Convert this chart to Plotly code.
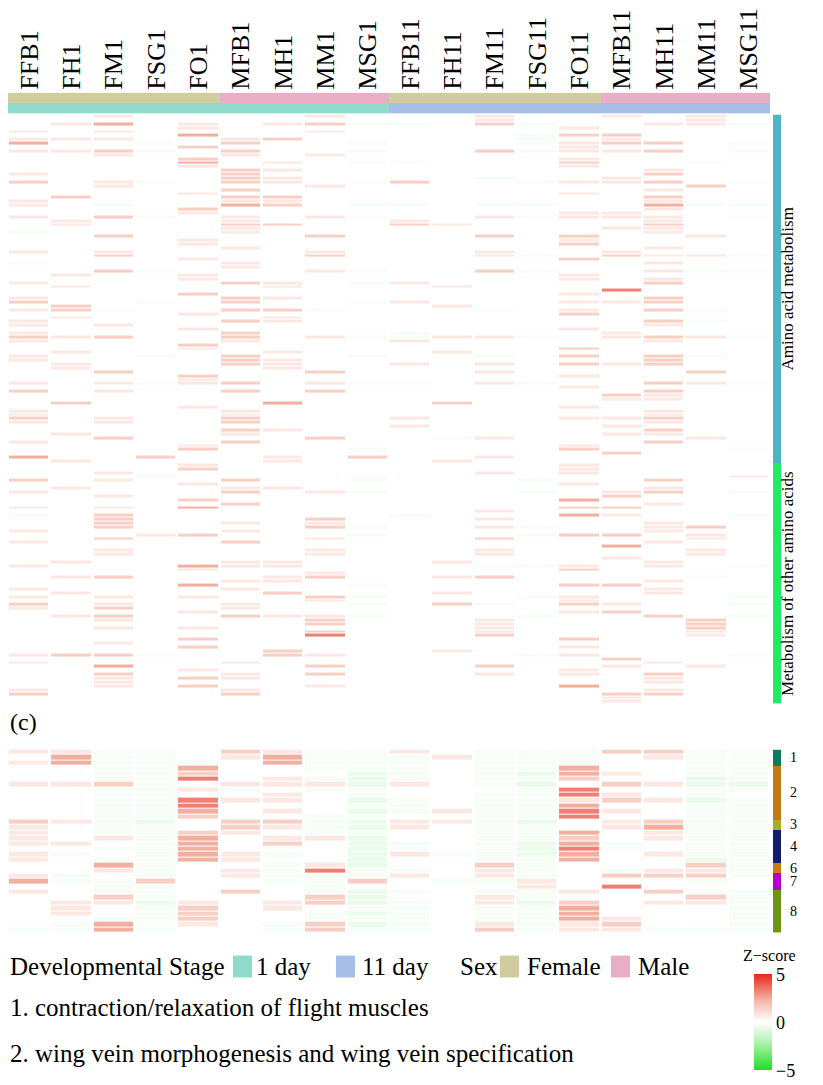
import plotly.graph_objects as go

SAMPLES = ["FFB1","FH1","FM1","FSG1","FO1","MFB1","MH1","MM1","MSG1",
           "FFB11","FH11","FM11","FSG11","FO11","MFB11","MH11","MM11","MSG11"]
SEX = ["Female"]*5 + ["Male"]*4 + ["Female"]*5 + ["Male"]*4
STAGE = ["1 day"]*9 + ["11 day"]*9

# level codes -> z-score
LEVELS = {"0": 0.0, "1": 0.7, "2": 1.5, "3": 2.4, "4": 3.3, "a": -0.25, "b": -0.6}

AMINO_ROWS = [
"001000010001001010","000000000001000010","01301012aa02a0011a","000010000000010000",
"101000010000000000","000030000000a22000","111001200000a01000","300a0200a000a1220a",
"000020000000010000","112a0200a002a1120a","001001010000000000","000020000000010000",
"00003010aa000200a0","000010000000010000","000002100000000100","100002000000000200",
"00000210000a001000","201a0210a200a1120a","001000010000000020","000002000000000100",
"000010000000010000","020002200000000200","100001100000000100","10a00320aa0aa003aa",
"000020000000000100","000010000000011000","102a0101a001a1110a","010001000100000100",
"010002200210000200","000001000000001100","a00001000000000100","002000020002020010",
"000010000000010000","000010000000020000","000001000000000100","101000010001001000",
"002000020001a0211a","000010000000020000","a00001000000000100",
"000001000000000000","002a0001a002a001aa","010010000000010000","000010000000010100",
"10000210a100000200","010000100010000000","000000000000004000","000020000000010000",
"100002100000000200","200a0200a100011200","020000000010000000","12a0022a000a0102a0",
"000010000000020000","010000100000000000","1000021000000002a0","101000000000000100",
"000010000000010000","100002000a00001000","21200201aa11a0121a","100001000100000100",
"000020000000000000","000010000000020000","010000100010000000","100a0200a00a0202a0",
"100002100000000200","010002100101021200","010000100000000000","002000020001000020",
"000020000000010000","000010000000000000","101a1201aa01a0021a","000000000000010000",
"201002020000000200","000000000000002100","000000000000001100","020000300020000000",
"000010000000010000",
"100001000000000100","100001000000000100","201002000100011200","101002000000000100",
"000000000100001000","000002100000000200","010001000000001100","0020000200a1000010",
"100002000000000200","000010000000010000","00002000a00002000a","000000000000002000",
"300200102001000000","010000100010000000",
]

OTHER_ROWS = [
"000010000000010000","000020000000010000","001000000001010000","000a0000a000000001",
"20100200a000a00200","000010000000010000","010001100000000100","10000201a000a0120a",
"001000000000002000","000020000000030000","000002000000000100","101030000000022000",
"000000000001000000","a02000000a0003100a","002000020001000000","002001010000000100",
"00200002a001a00120","100001000000000100","00012000a000a22010","002000010002000010",
"100002000000000100","000000000000003000","001000010001000010","001000010001000010",
"000000000000001000","010001100010000100","10003110000aa1010a","000010000000020000",
"000000010000000000","0120001200120000a0","000001100000000100","00003000a000022000",
"100001000000000100","010000200010000100","10101002a000a1000a","000000010000010000",
"20100100a02a02100a","102001000000000000","000010000000012000","01200211a000a0020a",
"001000020001000020","000000020001000020","001010000001000020","000000020001000010",
"000000040002000010","000020000000020000","001000000000000000","000020000000010000",
"000000200010000000","122a00210000a1000a","000000000000002000","100001000000000100",
"003000020002001010","000010000000010000","002001020001010200","001021000000000100",
"001000000000000100","001020010000030000","100001000000000100","200002000000002200",
"000000000000001000","000000000000001000",
]

# bottom panel: 1-day samples (left 9) and 11-day samples (right 9)
BOTTOM_DAY1 = [
"11aa021aa","03aa013aa","13aaa03aa","00aa300aa","00aa2000b","00aa401ab","112a0111b",
"00aa1a0aa","00aa0010a","00aa4110b","00aa4000a","00aa3010b","00aa200aa","21ab022ab",
"10aa021ab","10aa210aa","101a3011b","110a3020b","00aa3000b","1a0a31a0b","10aa3100b",
"003a00a1b","001a01a4a","1a0a01aaa","3aa200aa2","00aa000a0","10aa020ab","002a0002b",
"011b1012b","010a2010a","010a200ab","00aa200aa","0a3010a2b","aa3a00a2a",
]
BOTTOM_DAY11 = [
"10aaa22aa","a1aaa01aa","a0aaa00aa","a0aa300aa","a0ab310aa","a0aa200ba","10ab021bb",
"000a400aa","00aa410a0","a0aa121ba","a0aa300aa","a1aa410aa","00aa400aa","11ab012aa",
"10aa013aa","00aa301aa","00aa201aa","a0ab3a0aa","a0ab4a0aa","1aab301aa","00aa300ba",
"002a0002a","a01a0a11a","101a0222a","0aa1000a0","000104000","a0aa102aa","001a0002a",
"a01b2011a","a0aa3000a","a0aa3000a","a0aa3100a","a01a1200a","a02a11aaa",
]
BOTTOM_GROUPS = ["1"]*3 + ["2"]*10 + ["3"]*2 + ["4"]*6 + ["6"]*2 + ["7"]*3 + ["8"]*8
GROUP_ORDER = ["1","2","3","4","6","7","8"]
GROUP_COLORS = ["#0F7A5C","#C47A12","#A3B022","#111E6C","#C97D15","#B300CC","#6E9412"]

def parse(rows):
    return [[LEVELS.get(c, 0.0) for c in (r + "0"*18)[:18]] for r in rows]

top_z = parse(AMINO_ROWS) + parse(OTHER_ROWS)
bot_z = parse([a + b for a, b in zip(BOTTOM_DAY1, BOTTOM_DAY11)])
nA, nO = len(AMINO_ROWS), len(OTHER_ROWS)
NT = nA + nO
NB = len(bot_z)

OFF = 8
W, H = 823 - OFF, 1085 - OFF
def px(x): return (x - OFF) / W
def pxd(x): return max(0.0, min(1.0, px(x)))
def py(y): return 1 - (y - OFF) / H

ZSCALE = [[0, "#22DD22"], [0.3, "#B5F2B5"], [0.5, "#FFFFFF"], [0.72, "#F3B8A8"], [1, "#E8281E"]]
FONT = "Liberation Serif"

fig = go.Figure()

sex_code = [0 if s == "Female" else 1 for s in SEX]
stage_code = [2 if s == "1 day" else 3 for s in STAGE]
ann_cs = [[0, "#D0CC9E"], [0.25, "#D0CC9E"], [0.25, "#E7AEC6"], [0.5, "#E7AEC6"],
          [0.5, "#8FD9CD"], [0.75, "#8FD9CD"], [0.75, "#A6BFE9"], [1, "#A6BFE9"]]
fig.add_trace(go.Heatmap(z=[sex_code, stage_code], x=SAMPLES, y=["Sex", "Stage"],
                         colorscale=ann_cs, zmin=0, zmax=3, showscale=False,
                         xaxis="x", yaxis="y", hoverinfo="skip"))

fig.add_trace(go.Heatmap(z=top_z, x=SAMPLES, y=list(range(NT)), colorscale=ZSCALE,
                         zmin=-5, zmax=5, showscale=False, xgap=3, ygap=1,
                         xaxis="x", yaxis="y2"))
fig.add_trace(go.Heatmap(z=[[0]]*nA + [[1]]*nO, x=["g"], y=list(range(NT)),
                         colorscale=[[0, "#4EB5C6"], [0.5, "#4EB5C6"], [0.5, "#20EC63"], [1, "#20EC63"]],
                         zmin=0, zmax=1, showscale=False, xaxis="x2", yaxis="y2", hoverinfo="skip"))

fig.add_trace(go.Heatmap(z=bot_z, x=SAMPLES, y=list(range(NB)), colorscale=ZSCALE,
                         zmin=-5, zmax=5, xgap=3, ygap=1, xaxis="x", yaxis="y3",
                         colorbar=dict(x=px(744), xanchor="left", y=py(1022), yanchor="middle",
                                       len=96 / H, thickness=18, outlinewidth=0, ypad=0,
                                       tickvals=[-5, 0, 5], ticktext=["−5", "0", "5"],
                                       ticks="", tickfont=dict(family=FONT, size=18))))
gcode = [GROUP_ORDER.index(g) for g in BOTTOM_GROUPS]
ng = len(GROUP_ORDER)
gcs = []
for i, c in enumerate(GROUP_COLORS):
    gcs += [[i / ng, c], [(i + 1) / ng, c]]
fig.add_trace(go.Heatmap(z=[[c] for c in gcode], x=["g"], y=list(range(NB)),
                         colorscale=gcs, zmin=-0.5, zmax=ng - 0.5, showscale=False,
                         xaxis="x2", yaxis="y3", hoverinfo="skip"))

annotations = []
for name, a, b in [("Amino acid metabolism", 0, nA), ("Metabolism of other amino acids", nA, NT)]:
    annotations.append(dict(text=name, xref="paper", yref="y2", x=px(799), y=(a + b - 1) / 2,
                            textangle=-90, showarrow=False, font=dict(family=FONT, size=17, color="black")))
for g in GROUP_ORDER:
    idx = [i for i, v in enumerate(BOTTOM_GROUPS) if v == g]
    annotations.append(dict(text=g, xref="paper", yref="y3", x=px(788), y=(idx[0] + idx[-1]) / 2,
                            xanchor="left", showarrow=False, font=dict(family=FONT, size=14, color="black")))

def txt(t, x, y, size=25):
    annotations.append(dict(text=t, xref="paper", yref="paper", x=px(x), y=py(y), xanchor="left",
                            yanchor="middle", showarrow=False, font=dict(family=FONT, size=size, color="black")))

txt("(c)", 8, 720, 24)
txt("Developmental Stage", 8, 966)
txt("1 day", 254, 966)
txt("11 day", 360, 966)
txt("Sex", 458, 966)
txt("Female", 525, 966)
txt("Male", 636, 966)
txt("1. contraction/relaxation of flight muscles", 8, 1007)
txt("2. wing vein morphogenesis and wing vein specification", 8, 1053)
txt("Z−score", 741, 955, 16)

shapes = []
for x0, col in [(233, "#8FD9CD"), (336, "#A6BFE9"), (500, "#D0CC9E"), (611, "#E7AEC6")]:
    shapes.append(dict(type="rect", xref="paper", yref="paper", x0=px(x0), x1=px(x0 + 19),
                       y0=py(977), y1=py(955), fillcolor=col, line=dict(width=0)))

fig.update_layout(
    width=W, height=H, margin=dict(l=0, r=0, t=0, b=0),
    paper_bgcolor="white", plot_bgcolor="white",
    font=dict(family=FONT, color="black"),
    xaxis=dict(domain=[pxd(5), pxd(770)], anchor="y", side="top", tickangle=-90,
               tickfont=dict(family=FONT, size=26), ticks="", showgrid=False, zeroline=False,
               showline=False, ticklabelstandoff=2),
    yaxis=dict(domain=[py(109), py(88)], autorange="reversed", visible=False),
    yaxis2=dict(domain=[py(702), py(110)], range=[NT - 0.5, -0.5], visible=False),
    yaxis3=dict(domain=[py(932), py(748)], range=[NB - 0.5, -0.5], visible=False),
    xaxis2=dict(domain=[pxd(773), pxd(781)], anchor="y2", visible=False),
    annotations=annotations, shapes=shapes,
)
fig.write_html("out.html")
